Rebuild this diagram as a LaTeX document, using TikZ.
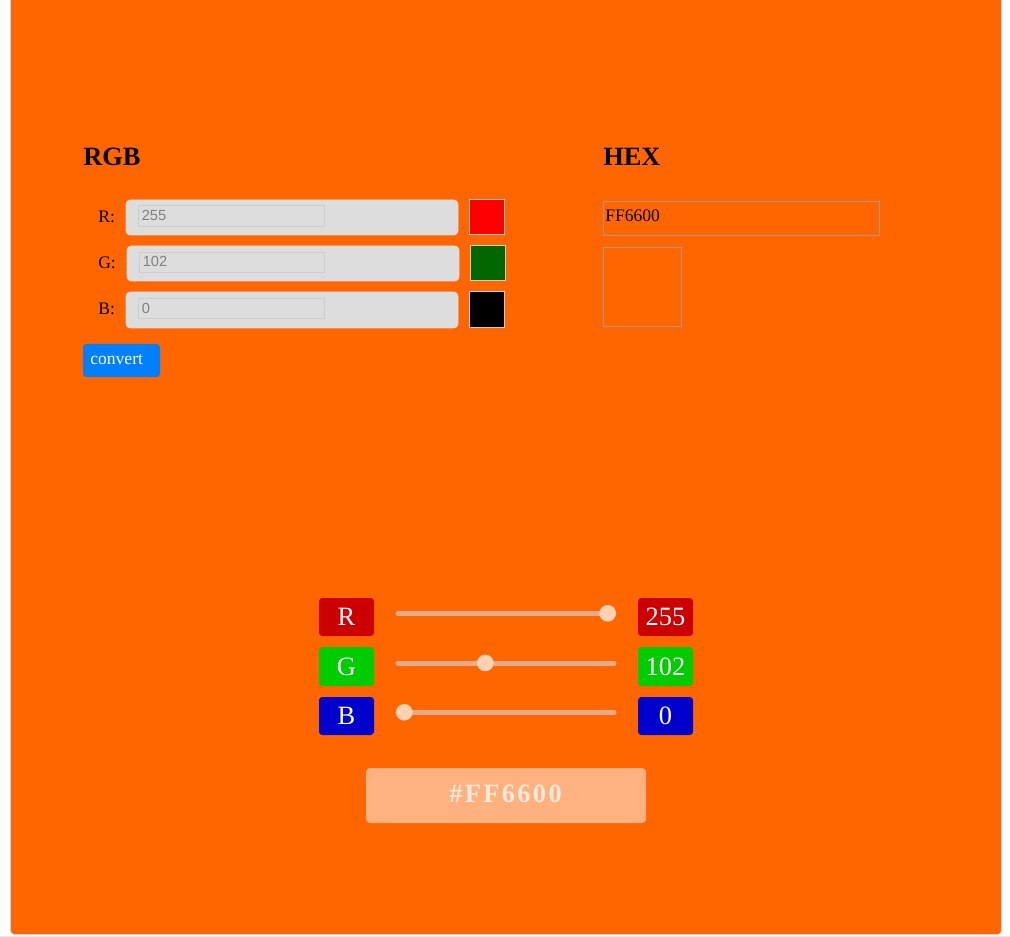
\documentclass[tikz,border=0pt]{standalone}
\usepackage{fontspec}
\setmainfont{Liberation Serif}
\newfontfamily\arialf{Liberation Sans}
\newfontfamily\spacedbold[LetterSpace=9]{Liberation Serif}
\definecolor{bg}{HTML}{FF6600}
\definecolor{fieldgray}{HTML}{DDDDDD}
\definecolor{fieldedge}{HTML}{CCCCCC}
\definecolor{inputtext}{HTML}{808080}
\definecolor{btnblue}{HTML}{0080FF}
\definecolor{darkgreen}{HTML}{006600}
\definecolor{rlab}{HTML}{CC0000}
\definecolor{glab}{HTML}{00CC00}
\definecolor{blab}{HTML}{0000CC}
\definecolor{trackc}{RGB}{228,170,138}
\definecolor{thumbc}{RGB}{255,210,180}
\definecolor{hexbox}{RGB}{255,178,128}
\definecolor{hextext}{RGB}{255,234,218}
\definecolor{hexedge}{RGB}{170,150,140}
\tikzset{
  heading/.style={anchor=base west, inner sep=0pt, font=\bfseries\fontsize{19.8}{20}\selectfont},
  lbl/.style={anchor=base west, inner sep=0pt, font=\fontsize{13.2}{14}\selectfont},
  infield/.style={fill=fieldgray, draw=fieldedge!70!white, rounded corners=3pt},
  inner/.style={draw=fieldedge, line width=0.6pt},
  intext/.style={anchor=base west, inner sep=0pt, text=inputtext, font=\arialf\fontsize{11}{12}\selectfont},
  swatch/.style={draw=fieldedge, line width=0.75pt},
  chip/.style={rounded corners=2.5pt},
  chiptext/.style={text=white, inner sep=0pt, font=\fontsize{19.8}{20}\selectfont},
  track/.style={draw=trackc, line width=3.75pt, line cap=round},
  thumb/.style={circle, fill=thumbc, minimum size=12.5pt, inner sep=0pt},
}
\begin{document}
\begin{tikzpicture}[x=0.75pt,y=-0.75pt]
\useasboundingbox (0,0) rectangle (1010,937);
\fill[white] (0,0) rectangle (1010,937);
\draw[gray!35, fill=bg, rounded corners=3pt] (10.5,-6) rectangle (1001.5,934.5);
\draw[gray!18, line width=1.5pt] (0,936.5) -- (1010,936.5);

% RGB section
\node[heading] (rgbh) at (83,166) {RGB};
\node[heading] (hexh) at (603,166) {HEX};

\node[lbl] (rl) at (98,223) {R:};
\node[lbl] (gl) at (98,268.5) {G:};
\node[lbl] (bl) at (98,315) {B:};

\draw[infield] (126,200) rectangle (458,235);
\draw[inner] (138,205) rectangle (324,226);
\node[intext] (rin) at (141.5,220.5) {255};
\draw[swatch, fill=red] (469,200) rectangle (504,235);

\draw[infield] (127,246) rectangle (459,281);
\draw[inner] (139,252) rectangle (324,272);
\node[intext] (gin) at (142.5,267) {102};
\draw[swatch, fill=darkgreen] (470,246) rectangle (505,281);

\draw[infield] (126,292) rectangle (458,328);
\draw[inner] (138,298) rectangle (324,318);
\node[intext] (bin) at (141.5,313.5) {0};
\draw[swatch, fill=black] (469,292) rectangle (504,328);

\fill[btnblue, rounded corners=2.5pt] (83,344) rectangle (160,377);
\node[anchor=base west, inner sep=0pt, text=white, font=\fontsize{13.2}{14}\selectfont] (conv) at (90,365) {convert};

% HEX section
\draw[hexedge, line width=0.75pt] (603.5,201.5) rectangle (879.5,235.5);
\node[lbl] (hexval) at (605,221.5) {FF6600};
\draw[hexedge, line width=0.75pt, fill=bg] (603.5,247.5) rectangle (681.5,326.5);

% sliders
\fill[rlab, chip] (319,598) rectangle (374,636);
\node[chiptext] (rchip) at (346.5,617) {R};
\fill[glab, chip] (319,647) rectangle (374,686);
\node[chiptext] (gchip) at (346.5,666.5) {G};
\fill[blab, chip] (319,697) rectangle (374,735);
\node[chiptext] (bchip) at (346.5,716) {B};

\fill[rlab, chip] (638,598) rectangle (693,636);
\node[chiptext] (rval) at (665.5,617) {255};
\fill[glab, chip] (638,647) rectangle (693,686);
\node[chiptext] (gval) at (665.5,666.5) {102};
\fill[blab, chip] (638,697) rectangle (693,735);
\node[chiptext] (bval) at (665.5,716) {0};

\coordinate (rs) at (398,613.3); \coordinate (re) at (614,613.3);
\coordinate (gs) at (398,663); \coordinate (ge) at (614,663);
\coordinate (bs) at (398,712.3); \coordinate (be) at (614,712.3);
\draw[track] (rs) -- (re);
\draw[track] (gs) -- (ge);
\draw[track] (bs) -- (be);
\node[thumb] (rthumb) at (607.7,613.3) {};
\node[thumb] (gthumb) at (485.3,663) {};
\node[thumb] (bthumb) at (404.3,712.3) {};

% result
\fill[hexbox, rounded corners=3pt] (366,768) rectangle (646,823);
\node[anchor=base, inner sep=0pt, text=hextext, font=\spacedbold\bfseries\fontsize{19.8}{20}\selectfont] (hexres) at (505.5,802) {\#FF6600};
\end{tikzpicture}
\end{document}
